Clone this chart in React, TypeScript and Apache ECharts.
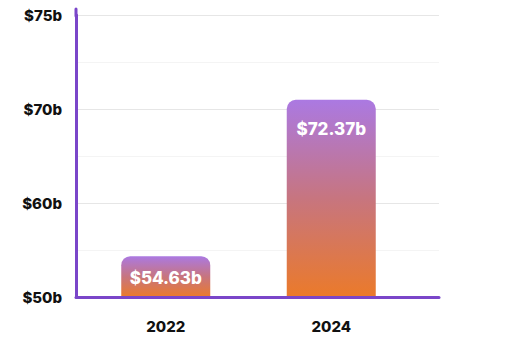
import React, { useEffect, useRef } from "react";
import * as echarts from "echarts";

const xCategories = ["2022", "2024"];
const revenueValues = [54.63, 72.37];
const yTickLabels = ["$50b", "", "$60b", "", "$70b", "", "$75b"];

const PURPLE = "#7a46c9";
const FONT = "Inter, 'Open Sans', sans-serif";

export default function App() {
  const ref = useRef<HTMLDivElement>(null);
  useEffect(() => {
    if (!ref.current) return;
    const chart = echarts.init(ref.current, null, { renderer: "svg" });
    const labelDistances = [13, 21];
    chart.setOption({
      animation: false,
      backgroundColor: "#ffffff",
      grid: [
        { left: 76, right: 73, top: 15, bottom: 54 },
        { left: 83, right: 98, top: 15, bottom: 54 },
      ],
      xAxis: [
        {
          type: "category",
          gridIndex: 0,
          data: xCategories,
          z: 10,
          axisLine: { show: true, lineStyle: { color: PURPLE, width: 3, cap: "round" } },
          axisTick: { show: false },
          axisLabel: { show: false },
          splitLine: { show: false },
        },
        {
          type: "category",
          gridIndex: 1,
          data: xCategories,
          axisLine: { show: false },
          axisTick: { show: false },
          axisLabel: {
            margin: 22,
            color: "#111111",
            fontSize: 15,
            fontWeight: 800,
            fontFamily: FONT,
          },
        },
      ],
      yAxis: [
        {
          type: "value",
          gridIndex: 0,
          min: 0,
          max: 6,
          interval: 1,
          axisLine: { show: true, lineStyle: { color: PURPLE, width: 3, cap: "round" } },
          axisTick: { show: false },
          axisLabel: {
            margin: 14,
            color: "#111111",
            fontSize: 15,
            fontWeight: 800,
            fontFamily: FONT,
            verticalAlign: "middle",
            padding: [3, 0, 0, 0],
            formatter: (v: number) => yTickLabels[Math.round(v)] ?? "",
          },
          splitLine: { show: true, lineStyle: { color: ["#e6e6e6", "#f4f4f4"], width: 1 } },
        },
        {
          type: "value",
          gridIndex: 1,
          min: 50,
          max: 82,
          show: false,
          splitLine: { show: false },
        },
      ],
      graphic: [
        {
          type: "line",
          shape: { x1: 76, y1: 9, x2: 76, y2: 16 },
          style: { stroke: PURPLE, lineWidth: 3, lineCap: "round" },
          z: 20,
        },
      ],
      series: [
        {
          type: "bar",
          xAxisIndex: 1,
          yAxisIndex: 1,
          barWidth: 89,
          z: 2,
          data: revenueValues.map((v, i) => ({
            value: v,
            label: { distance: labelDistances[i] },
          })),
          itemStyle: {
            borderRadius: [9, 9, 0, 0],
            color: new echarts.graphic.LinearGradient(0, 0, 0, 1, [
              { offset: 0, color: "#ab79e2" },
              { offset: 0.5, color: "#c7757f" },
              { offset: 1, color: "#eb7a2a" },
            ]),
          },
          label: {
            show: true,
            position: "insideTop",
            color: "#ffffff",
            fontSize: 17,
            fontWeight: 800,
            fontFamily: FONT,
            formatter: (p: any) => `$${p.value}b`,
          },
        },
      ],
    });
    return () => chart.dispose();
  }, []);
  return (
    <div
      ref={ref}
      style={{ position: "absolute", left: 0, top: 0, width: 512, height: 351 }}
    />
  );
}
